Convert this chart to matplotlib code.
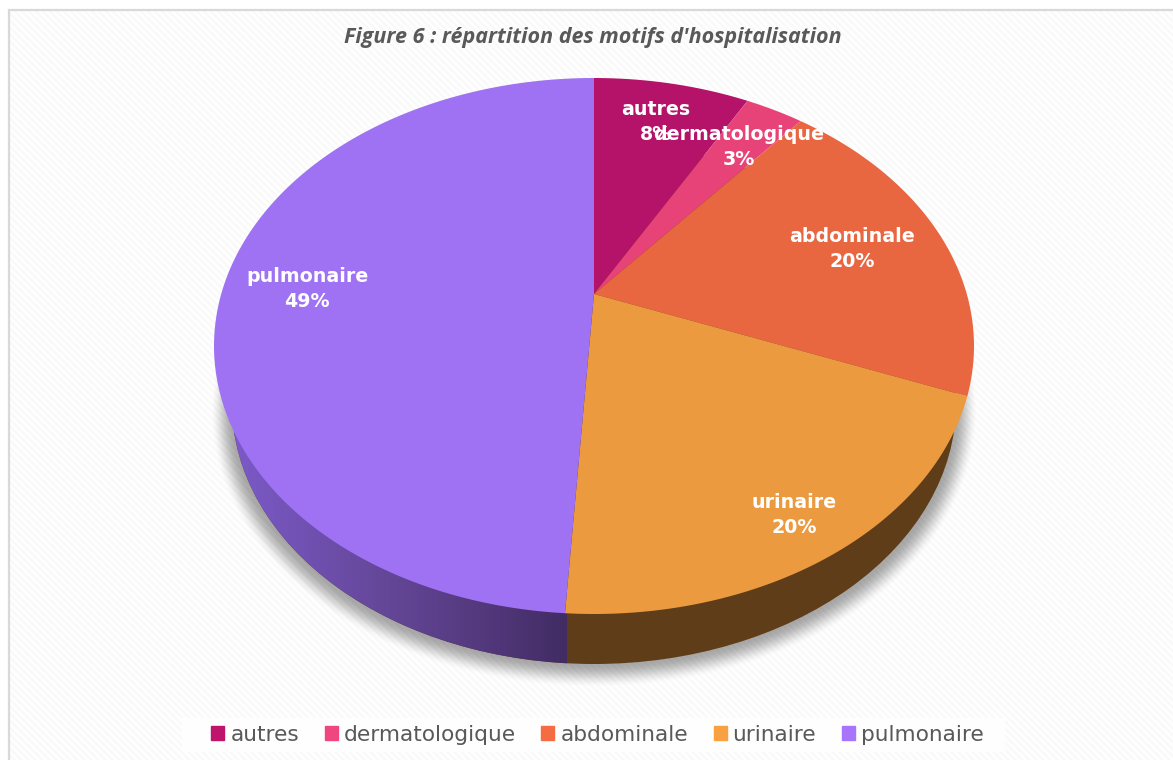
import numpy as np
import matplotlib
matplotlib.use("Agg")
import matplotlib.pyplot as plt
from matplotlib.colors import LinearSegmentedColormap
from matplotlib.patches import Ellipse, Patch, Rectangle
from matplotlib.path import Path
from matplotlib.transforms import Affine2D, Transform

categories = ["autres", "dermatologique", "abdominale", "urinaire", "pulmonaire"]
values = [8, 3, 20, 20, 49]
slice_colors = ["#B5126A", "#E84378", "#E86640", "#EB9A40", "#9E72F2"]
legend_colors = ["#BE146E", "#F0457F", "#F56B42", "#F9A040", "#A874FB"]
label_xy = [(656, 122), (739, 147), (852, 249), (794, 515), (307, 289)]
title = "Figure 6 : répartition des motifs d'hospitalisation"

W, H = 1173, 760
CX, CY, A, B, TILT = 594, 346, 380, 268, 52 / 268
WALL_CY, WALL_A, WALL_B = 404, 362, 260
FONT = "DejaVu Sans"


class PiePerspective(Transform):
    """Projective view of the unit pie disc, in pixel coordinates."""
    input_dims = output_dims = 2
    is_separable = False
    has_inverse = False

    def transform_non_affine(self, values):
        pts = np.asarray(values, dtype=float)
        x, y = pts[:, 0], pts[:, 1]
        d = 1 + TILT * y
        u = x * np.sqrt(1 - TILT ** 2) / d
        v = (y + TILT) / d
        return np.column_stack([CX + A * u, CY - B * v])

    def transform_path_non_affine(self, path):
        poly = path.to_polygons(Affine2D().scale(3000), closed_only=True)[0] / 3000
        return Path(self.transform_non_affine(poly))


fig = plt.figure(figsize=(W / 100, H / 100), dpi=100, facecolor="white")
ax = fig.add_axes([0, 0, 1, 1])

wedges, _ = ax.pie(values, colors=slice_colors, startangle=90, counterclock=False,
                   wedgeprops={"linewidth": 0})
persp = PiePerspective()
for w in wedges:
    w.set_transform(persp + ax.transData)
    w.set_zorder(4)
    w.set_clip_on(False)

# Striped chart area
yy, xx = np.mgrid[0:H, 0:W]
stripes = 251.5 + 3.5 * np.cos(2 * np.pi * (xx - yy) / 7.0)
stripes[:10, :] = 255
stripes[:, :9] = 255
ax.imshow(stripes, cmap="gray", vmin=0, vmax=255, extent=[0, W, H, 0],
          interpolation="nearest", aspect="auto", zorder=0)
ax.plot([8.5, 8.5, W], [H, 9.5, 9.5], color="#D9D9D9", lw=1.6, zorder=1,
        solid_joinstyle="miter")

# Soft drop shadow under the pie
sa, sb, scy = WALL_A + 10, WALL_B + 4, WALL_CY + 8
f = np.sqrt(((xx + 0.5 - CX) / sa) ** 2 + ((yy + 0.5 - scy) / sb) ** 2)
grad = np.sqrt(((xx + 0.5 - CX) / sa ** 2) ** 2 + ((yy + 0.5 - scy) / sb ** 2) ** 2) / np.maximum(f, 1e-3)
dist = (f - 1) / np.maximum(grad, 1e-6)
t = np.clip((dist + 12) / 24, 0, 1)
alpha = 0.34 * (1 - t * t * (3 - 2 * t))
shadow = np.zeros((H, W, 4))
shadow[..., 3] = alpha
ax.imshow(shadow, extent=[0, W, H, 0], interpolation="bilinear", aspect="auto", zorder=2)

# Side wall
brown = Ellipse((CX, WALL_CY), 2 * WALL_A, 2 * WALL_B, fc="#5F3D18", ec="none", zorder=3)
ax.add_patch(brown)
split = persp.transform_non_affine(
    np.array([[np.sin(np.radians(3.6 * sum(values[:4]))),
               np.cos(np.radians(3.6 * sum(values[:4])))]]))[0, 0] + 1.5
wall_cmap = LinearSegmentedColormap.from_list(
    "wall", [(0, "#7C5AC8"), (0.45, "#654799"), (0.8, "#503678"), (1, "#412C63")])
grad_img = np.linspace(0, 1, 256)[None, :]
im = ax.imshow(grad_img, cmap=wall_cmap, extent=[CX - WALL_A, split, H, 0],
               aspect="auto", zorder=3.1, interpolation="bilinear")
im.set_clip_path(Ellipse((CX, WALL_CY), 2 * WALL_A, 2 * WALL_B, transform=ax.transData))

# Data labels
for cat, val, (lx, ly) in zip(categories, values, label_xy):
    ax.text(lx, ly, f"{cat}\n{val}%", color="white", fontsize=13.7, fontweight="bold",
            family=FONT, ha="center", va="center", linespacing=1.42, zorder=6)

# Title
ax.text(593, 37, title, color="#595959", fontsize=15.5, fontweight="bold", style="italic",
        family="Open Sans", ha="center", va="center", zorder=6)

# Legend
ax.add_patch(Rectangle((182, 718), 823, 34, fc="#FEFEFE", ec="none", zorder=5))
handles = [Patch(color=c, label=n) for c, n in zip(legend_colors, categories)]
leg = ax.legend(handles=handles, loc="center", bbox_to_anchor=(597.5, 735),
                bbox_transform=ax.transData, ncol=5, frameon=False,
                prop={"family": FONT, "size": 15.6}, labelcolor="#595959",
                handlelength=0.6, handleheight=0.6, handletextpad=0.27,
                columnspacing=1.19, borderpad=0.35)
leg.set_zorder(6)

ax.set_xlim(0, W)
ax.set_ylim(H, 0)
ax.set_aspect("auto")
ax.axis("off")
fig.savefig("out.png", dpi=100, facecolor="white")
